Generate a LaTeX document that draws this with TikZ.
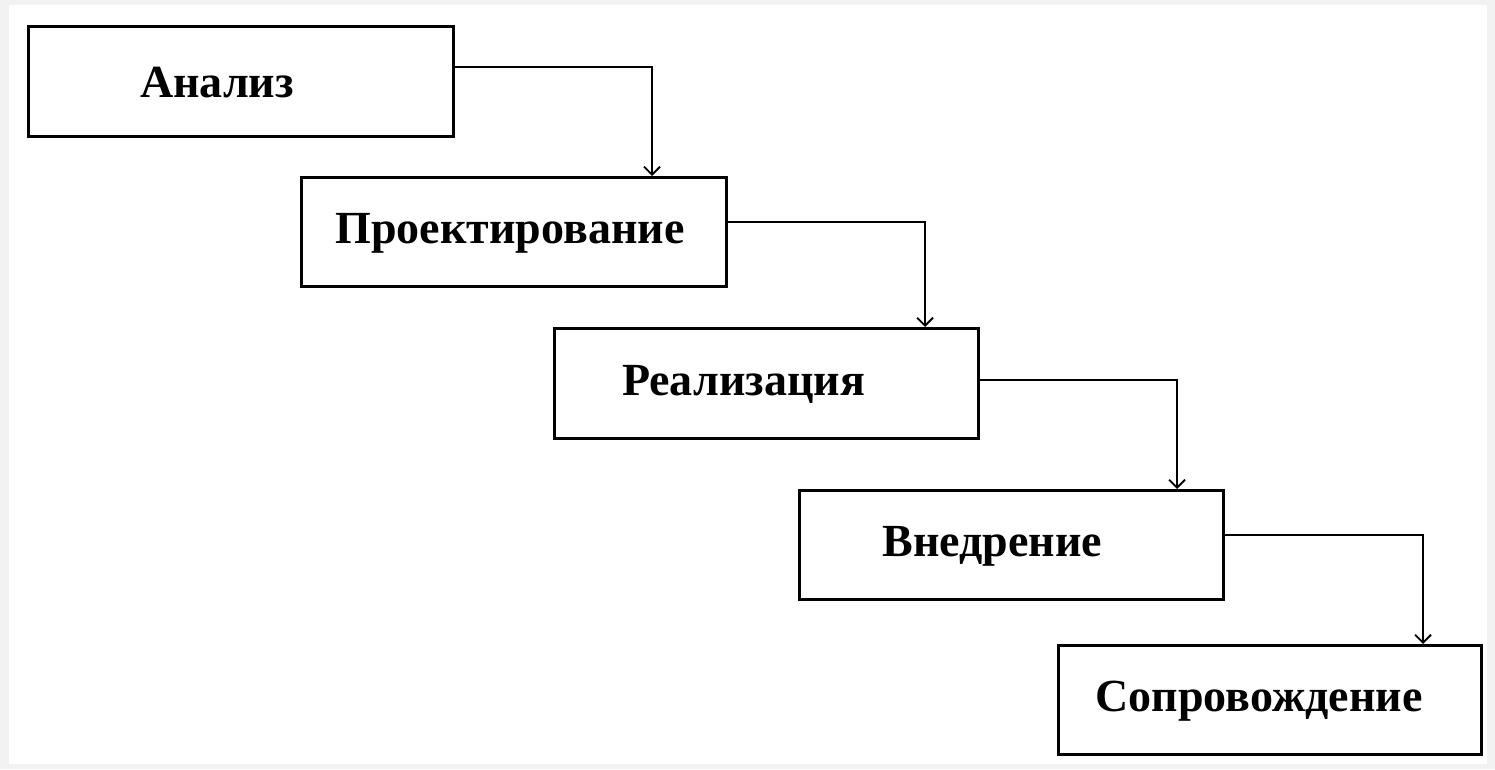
\documentclass[tikz,border=0pt]{standalone}
\usepackage{fontspec}
\setmainfont{Liberation Serif}
\usetikzlibrary{arrows.meta}
\tikzset{
  box/.style={draw=black, line width=3pt, fill=white, minimum width=425pt, minimum height=110pt, anchor=north west, inner sep=0pt},
  lbl/.style={font=\fontsize{46}{50}\selectfont\bfseries, inner sep=0pt},
  conn/.style={draw=black, line width=2.6pt, -{Straight Barb[length=8pt,width=16pt,line width=1.8pt]}},
}
\begin{document}
\begin{tikzpicture}[x=1pt,y=-1pt]
\useasboundingbox (0,0) rectangle (1495,769);
\fill[gray!10] (0,0) rectangle (1495,769);
\fill[white] (9,5) rectangle (1487,764);
\node[box, minimum width=425pt, minimum height=110pt] (b1) at (27,25) {};
\node[box, minimum width=425pt, minimum height=109pt] (b2) at (300,176) {};
\node[box, minimum width=424pt, minimum height=110pt] (b3) at (553,327) {};
\node[box, minimum width=424pt, minimum height=109pt] (b4) at (798,489) {};
\node[box, minimum width=423pt, minimum height=109pt] (b5) at (1057,644) {};
\node[lbl] (t1) at ([xshift=-24pt,yshift=-1pt]b1.center) {Анализ};
\node[lbl] (t2) at ([xshift=-4pt,yshift=-1pt]b2.center) {Проектирование};
\node[lbl] (t3) at ([xshift=-23pt,yshift=-1pt]b3.center) {Реализация};
\node[lbl] (t4) at ([xshift=-19pt,yshift=-1pt]b4.center) {Внедрение};
\node[lbl] (t5) at ([xshift=-11pt,yshift=-1pt]b5.center) {Сопровождение};
\draw[conn] ([yshift=-42pt]b1.north east) -| ([xshift=352pt]b2.north west);
\draw[conn] ([yshift=-46pt]b2.north east) -| ([xshift=372pt]b3.north west);
\draw[conn] ([yshift=-53pt]b3.north east) -| ([xshift=379pt]b4.north west);
\draw[conn] ([yshift=-46pt]b4.north east) -| ([xshift=366pt]b5.north west);
\end{tikzpicture}
\end{document}
